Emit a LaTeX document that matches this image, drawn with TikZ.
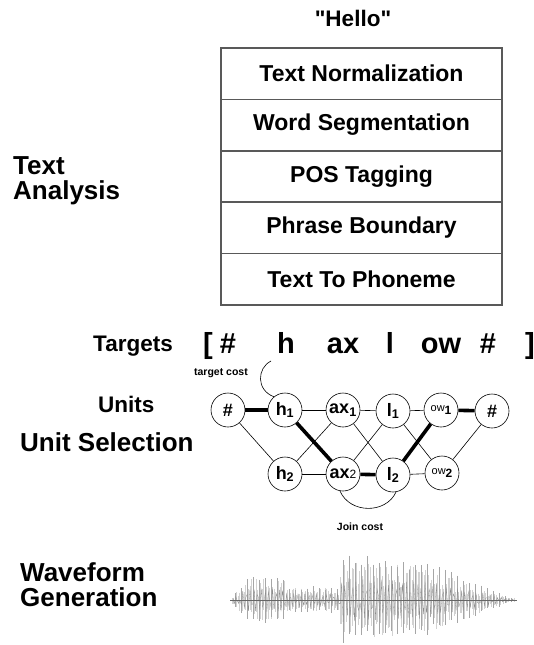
\documentclass[tikz,border=0pt]{standalone}
\usepackage{fontspec}
\setmainfont{Liberation Sans}
\usetikzlibrary{positioning}

\newcommand{\pxsize}[1]{\fontsize{#1}{#1}\selectfont}
\newcommand{\dq}{\XeTeXglyph\XeTeXcharglyph"22\relax}
% envelope of the speech waveform
\pgfmathdeclarefunction{wenv}{1}{%
  \pgfmathparse{#1<247 ? 4+(#1-232)*1.2 : (#1<286 ? 23 : (#1<340 ? 13 : (#1<425 ? 44-(#1-343)*0.08 : max(2,37*(515-#1)/90))))}}

\begin{document}
\begin{tikzpicture}[x=1pt,y=-1pt,
    stage/.style={draw=black!65,line width=1.5pt,outer sep=0pt,inner sep=0pt,
                  minimum width=281pt,minimum height=51.4pt,font=\bfseries\pxsize{23}},
    side/.style={anchor=west,align=left,inner sep=0pt,font=\bfseries\pxsize{26}},
    small/.style={inner sep=0pt,font=\bfseries\pxsize{22.5}},
    target/.style={anchor=base,inner sep=0pt,font=\bfseries\pxsize{29}},
    unit/.style={circle,draw,line width=0.6pt,minimum size=34pt,inner sep=0pt,
                 font=\bfseries\pxsize{18}},
    cost/.style={inner sep=0pt,font=\bfseries\pxsize{10.5}},
    thin/.style={line width=0.6pt},
    best/.style={line width=3.6pt}]

    \useasboundingbox (0,0) rectangle (534,645);

    %% text analysis
    \node[small] (hello) at (353,18) {\dq Hello\dq};
    \node[stage] (norm) at (361.5,73.7) {Text Normalization};
    \node[stage,below=0pt of norm] (seg) {Word Segmentation};
    \node[stage,below=0pt of seg] (pos) {POS Tagging};
    \node[stage,below=0pt of pos] (phrase) {Phrase Boundary};
    \node[stage,below=0pt of phrase] (g2p) {Text To Phoneme};
    \node[side] (analysis) at (13,181) {Text\\[-1pt]Analysis};

    %% unit selection
    \node[small,anchor=base west] (targets) at (93,351) {Targets};
    \node[small,anchor=base west] (units) at (98,412) {Units};
    \node[side] (selection) at (20,442) {Unit Selection};

    \node[target] (lb)  at (208,353) {[};
    \node[target] (ts)  at (228,353) {\#};
    \node[target] (th)  at (286,353) {h};
    \node[target] (tax) at (343,353) {ax};
    \node[target] (tl)  at (390,353) {l};
    \node[target] (tow) at (441,353) {ow};
    \node[target] (te)  at (488,353) {\#};
    \node[target] (rb)  at (530,353) {]};

    \node[unit] (sL)  at (228,410) {\#};
    \node[unit] (h1)  at (285,410) {h\textsubscript{1}};
    \node[unit] (ax1) at (343,410) {ax\textsubscript{1}};
    \node[unit] (l1)  at (393,411) {l\textsubscript{1}};
    \node[unit] (ow1) at (441,410) {\raisebox{3pt}{\pxsize{11}\mdseries ow}{\pxsize{12}1}};
    \node[unit] (sR)  at (492,411) {\#};
    \node[unit] (h2)  at (285,474) {h\textsubscript{2}};
    \node[unit] (ax2) at (343,474) {ax{\pxsize{12}\mdseries 2}};
    \node[unit] (l2)  at (393,475) {l\textsubscript{2}};
    \node[unit] (ow2) at (442,473) {\raisebox{3pt}{\pxsize{11}\mdseries ow}{\pxsize{12}2}};

    \draw[best] (sL) -- (h1);
    \draw[thin] (sL) -- (h2);
    \draw[thin] (h1) -- (ax1);
    \draw[best] (h1) -- (ax2);
    \draw[thin] (h2) -- (ax1);
    \draw[thin] (h2) -- (ax2);
    \draw[thin] (ax1) -- (l1);
    \draw[thin] (ax1) -- (l2);
    \draw[thin] (ax2) -- (l1);
    \draw[best] (ax2) -- (l2);
    \draw[thin] (l1) -- (ow1);
    \draw[thin] (l1) -- (ow2);
    \draw[best] (l2) -- (ow1);
    \draw[thin] (l2) -- (ow2);
    \draw[best] (ow1) -- (sR);
    \draw[thin] (ow2) -- (sR);

    % costs
    \node[cost] (tcost) at (221,373) {target cost};
    \coordinate (tc) at (271,361);
    \draw[thin] (tc) .. controls (257,368) and (256,390) .. (h1.130);
    \node[cost] (jcost) at (360,527) {Join cost};
    \draw[thin] (ax2.-100) .. controls (350,514) and (386,514) .. (l2.-80);

    %% waveform generation
    \node[side] (generation) at (20,585) {Waveform\\[-1pt]Generation};

    \pgfmathsetseed{42}
    \foreach \i in {0,...,188} {
      \pgfmathsetmacro{\px}{232+1.5*\i}
      \pgfmathsetmacro{\amp}{wenv(\px)}
      \draw[gray!35,line width=1pt] (\px,{600-\amp*(0.3+0.6*rnd)}) -- (\px,{600+\amp*(0.3+0.6*rnd)});
    }
    \foreach \i in {0,...,46} {
      \pgfmathsetmacro{\px}{235+6*\i}
      \pgfmathsetmacro{\amp}{wenv(\px)}
      \draw[gray!70,line width=0.8pt] (\px,{600-\amp*(0.75+0.3*rnd)}) -- (\px,{600+\amp*(0.7+0.3*rnd)});
    }
    \draw[black!45,line width=0.3pt] plot[domain=233:514,samples=200] (\x,{600+0.5*wenv(\x)*sin(mod(\x,40)*97)});
    \draw[black!60,line width=0.6pt] (230,600) -- (517,600);
\end{tikzpicture}
\end{document}
